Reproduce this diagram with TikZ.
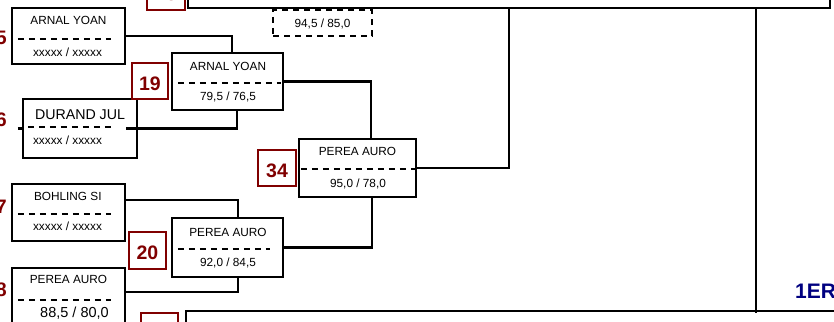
\documentclass[tikz,border=0pt]{standalone}
\usepackage{fontspec}
\setmainfont{Liberation Sans}
\usepackage{xcolor}
\usepackage{tikz}
\usetikzlibrary{calc}

\definecolor{rougefonce}{RGB}{128,0,0}
\definecolor{bleunuit}{RGB}{0,0,128}

\tikzset{
	joueur/.style={draw=black,line width=2.2pt,inner sep=0pt},
	numero/.style={draw=rougefonce,line width=2.2pt,text=rougefonce,font=\bfseries\fontsize{19.5}{20}\selectfont,inner sep=0pt,text height=18pt,text depth=0pt},
	rang/.style={text=rougefonce,font=\bfseries\fontsize{19.5}{20}\selectfont,inner sep=0pt,text height=14pt,text depth=0pt},
	nom/.style={font=\fontsize{11.8}{13}\selectfont,inner sep=0pt,text height=8.4pt,text depth=0pt},
	tiret/.style={line width=2.2pt,dash pattern=on 6pt off 5pt},
	lien/.style={line width=2.2pt},
}

\begin{document}
\begin{tikzpicture}[x=1pt,y=-1pt]
		\useasboundingbox (0,0) rectangle (834,321);
		\clip (0,0) rectangle (834,321);

		\begin{scope}[every node/.style={joueur}]
		\node[minimum width=113pt,minimum height=56pt] (J15) at (68.5,36) {};
		\node[minimum width=114pt,minimum height=59pt] (J16) at (80,128.5) {};
		\node[minimum width=113pt,minimum height=57pt] (J17) at (68.5,212.5) {};
		\node[minimum width=113pt,minimum height=57pt] (J18) at (68.5,296.5) {};
		\node[minimum width=111pt,minimum height=57pt] (M19) at (227.5,81.5) {};
		\node[minimum width=111pt,minimum height=59pt] (M20) at (227.5,247.5) {};
		\node[minimum width=117pt,minimum height=58pt] (M34) at (357.5,168) {};
		\node[minimum width=642pt,minimum height=48pt] (M18) at (509,-16) {};
		\node[minimum width=660pt,minimum height=48pt] (M21) at (516,335) {};
		\node[minimum width=99pt,minimum height=26pt,dash pattern=on 6pt off 5pt,nom] (E18) at (322.5,23) {94,5 / 85,0};
		\end{scope}

		% numeros des matchs
		\node[numero,minimum width=36pt,minimum height=36pt] (N19) at (150,81) {19};
		\node[numero,minimum width=37pt,minimum height=37pt] (N20) at (147.5,250.5) {20};
		\node[numero,minimum width=38pt,minimum height=36pt] (N34) at (277,168) {34};
		\node[numero,minimum width=38pt,minimum height=36pt] (N18) at (166,-8) {18};
		\node[numero,minimum width=37pt,minimum height=37pt] (N21) at (159.5,331.5) {21};
		\node[rang,anchor=east] (R15) at (7,38) {15};
		\node[rang,anchor=east] (R16) at (7,119) {16};
		\node[rang,anchor=east] (R17) at (7,206) {17};
		\node[rang,anchor=east] (R18) at (7,289) {18};

		% noms et scores
		\begin{scope}[every node/.style={nom}]
		\node (T15) at (68.5,20) {ARNAL YOAN};
		\node (S15) at (67.5,52.5) {xxxxx / xxxxx};
		\node[font=\fontsize{14.2}{16}\selectfont,text height=10.2pt] (T16) at (80,114) {DURAND JUL};
		\node (S16) at (67.5,140) {xxxxx / xxxxx};
		\node (T17) at (67.8,196) {BOHLING SI};
		\node (S17) at (67.5,226.5) {xxxxx / xxxxx};
		\node (T18) at (68.5,279) {PEREA AURO};
		\node[font=\fontsize{14.5}{16}\selectfont,text height=10.4pt] (S18) at (74.5,312) {88,5 / 80,0};
		\node (T19) at (228,66) {ARNAL YOAN};
		\node (S19) at (228,96.5) {79,5 / 76,5};
		\node (T20) at (228,232) {PEREA AURO};
		\node (S20) at (228,262.7) {92,0 / 84,5};
		\node (T34) at (357.5,151.7) {PEREA AURO};
		\node (S34) at (358,182.8) {95,0 / 78,0};
		\end{scope}

		% separations
		\draw[tiret] ([xshift=7pt,yshift=-32pt]J15.north west) -- ([xshift=-15pt,yshift=-32pt]J15.north east);
		\draw[tiret] ([xshift=6pt,yshift=-29pt]J16.north west) -- ([xshift=-27pt,yshift=-29pt]J16.north east);
		\draw[tiret] ([xshift=7pt,yshift=-31pt]J17.north west) -- ([xshift=-15pt,yshift=-31pt]J17.north east);
		\draw[tiret] ([xshift=7pt,yshift=-33pt]J18.north west) -- ([xshift=-15pt,yshift=-33pt]J18.north east);
		\draw[tiret] ([xshift=7pt,yshift=-31pt]M19.north west) -- ([xshift=-3pt,yshift=-31pt]M19.north east);
		\draw[tiret] ([xshift=7pt,yshift=-32pt]M20.north west) -- ([xshift=-14pt,yshift=-32pt]M20.north east);
		\draw[tiret] ([xshift=3pt,yshift=-31pt]M34.north west) -- ([xshift=-2pt,yshift=-31pt]M34.north east);

		% liens
		\begin{scope}[every path/.style={lien}]
		\coordinate (F) at (756,313);
		\draw (J15.east) -| ([xshift=4.5pt]M19.north);
		\draw ([xshift=-12pt]J16.east) -| ([xshift=9.5pt]M19.south);
		\draw ([xshift=-4pt]J16.west) -- (J16.west);
		\draw ([yshift=-17pt]J17.north east) -| ([xshift=10.5pt]M20.north);
		\draw ([xshift=-2pt,yshift=-25pt]J18.north east) -| ([xshift=10.5pt]M20.south);
		\draw (M19.east) -| ([xshift=13.5pt]M34.north);
		\draw (M20.east) -| ([xshift=14.5pt]M34.south);
		\draw (M34.east) -| (M18.south);
		\draw (M18.south -| F) -- (F);
		\end{scope}

		\node[anchor=base west,inner sep=0pt,text=bleunuit,font=\bfseries\fontsize{21}{22}\selectfont] (P1) at (795,298) {1ER};
\end{tikzpicture}
\end{document}
